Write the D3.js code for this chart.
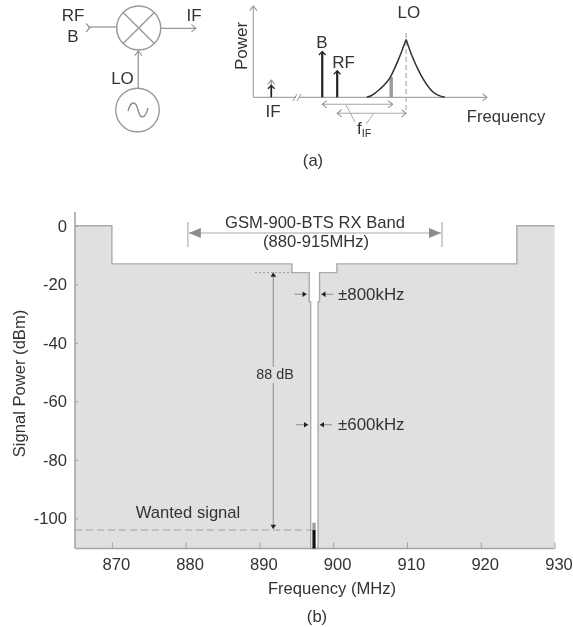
<!DOCTYPE html>
<html><head><meta charset="utf-8">
<script src="https://cdn.jsdelivr.net/npm/d3@7"></script>
<style>
html,body{margin:0;background:#fff}
svg{display:block;filter:blur(.55px)}
text{font-family:"Liberation Sans",Arial,sans-serif;fill:#333}
</style></head><body><div id="c"></div>
<script>
// Panel (b): blocker mask
const maskFreq = [865, 870, 870, 894.4, 894.4, 896.75, 896.75, 896.95, 896.95, 897.95, 897.95, 898.15, 898.15, 900.5, 900.5, 924.9, 924.9, 930];
const maskPower = [0, 0, -13, -13, -16, -16, -26, -26, -110.3, -110.3, -26, -26, -16, -16, -13, -13, 0, 0];
const xTicks = [870, 880, 890, 900, 910, 920, 930];
const yTicks = [0, -20, -40, -60, -80, -100];
const wantedFreq = 897.4, wantedPower = -104, wantedPeak = -101.5;
// Panel (a): schematic spectrum, units 0-100
const toneNames = ["IF", "B", "RF"];
const toneFreq = [7.7, 29.5, 35.9];
const tonePower = [13, 50, 29];
const loLeftFreq = [48.6, 50.6, 54.1, 58.4, 62, 65.4];
const loLeftPower = [0, 2, 8.8, 21, 40.7, 63.4];
const loRightFreq = [65.4, 67.8, 71.4, 76.9, 82];
const loRightPower = [63.4, 46, 26, 5.8, 0];

const W = 573, H = 627, line = "#a6a6a6", fill = "#e0e0e0", FS = 16.6;
const svg = d3.select("#c").append("svg").attr("width", W).attr("height", H);
const defs = svg.append("defs");
function mk(id, vb, size, path, attrs) {
  const p = defs.append("marker").attr("id", id).attr("viewBox", vb).attr("refX", 0).attr("refY", 0)
    .attr("markerWidth", size).attr("markerHeight", size).attr("markerUnits", "userSpaceOnUse")
    .attr("orient", "auto-start-reverse").append("path").attr("d", path);
  for (const k in attrs) p.attr(k, attrs[k]);
}
mk("k", "-7 -5 8 10", 7, "M-6,-4L0,0L-6,4Z", {fill: "#222"});
mk("band", "-13 -7 14 14", 14, "M-12,-5L0,0L-12,5Z", {fill: "#8c8c8c"});
mk("go", "-7 -6 8 12", 11, "M-5,-4L0,0L-5,4", {fill: "none", stroke: "#8e8e8e", "stroke-width": 1.1});
mk("bo", "-7 -6 8 12", 9, "M-4.5,-4.5L0,0L-4.5,4.5", {fill: "none", stroke: "#222", "stroke-width": 1.7});
function seg(x1, y1, x2, y2, s = line, w = 1.3, extra = {}) {
  const l = svg.append("line").attr("x1", x1).attr("y1", y1).attr("x2", x2).attr("y2", y2).attr("stroke", s).attr("stroke-width", w);
  for (const k in extra) l.attr(k, extra[k]);
  return l;
}
function txt(t, x, y, size = FS, anchor = "middle") {
  return svg.append("text").attr("x", x).attr("y", y).attr("font-size", size).attr("text-anchor", anchor).text(t);
}

/* ---------- panel (b) ---------- */
const x = d3.scaleLinear().domain([865, 930]).range([75, 554.5]);
const y = d3.scaleLinear().domain([0, -110.3]).range([225.8, 548.5]);
const pts = maskFreq.map((f, i) => [f, maskPower[i]]);
const open = d3.line().x(d => x(d[0])).y(d => y(d[1]));
svg.append("path").attr("d", open(pts) + `L${x(930)},${y(-110.3)}L${x(865)},${y(-110.3)}Z`).attr("fill", fill);
svg.append("path").attr("d", open(pts)).attr("fill", "none").attr("stroke", "#ababab").attr("stroke-width", 1.4);

const gx = svg.append("g").attr("transform", `translate(0,${y(-110.3)})`)
  .call(d3.axisBottom(x).tickValues(xTicks).tickSize(-6).tickPadding(9.5).tickFormat(d => String(d)));
const gy = svg.append("g").attr("transform", `translate(${x(865)},0)`)
  .call(d3.axisLeft(y).tickValues(yTicks).tickSize(-3).tickPadding(8).tickFormat(d => String(d)));
[gx, gy].forEach(g => {
  g.selectAll("text").attr("font-size", FS).attr("font-family", '"Liberation Sans",Arial,sans-serif').attr("fill", "#333");
  g.selectAll("line").attr("stroke", "#a0a0a0");
  g.select(".domain").remove();
});
gx.selectAll("text").attr("dx", 4);
seg(x(865), 212, x(865), y(-110.3), "#a6a6a6", 1.6);
seg(x(865), y(-110.3), x(930), y(-110.3), "#a6a6a6", 1.5);

// band bracket
const bandL = x(880.3), bandR = x(914.75);
seg(bandL, 222, bandL, 247, "#b5b5b5", 1.3); seg(bandR, 222, bandR, 247, "#b5b5b5", 1.3);
seg(bandL + 1, 233, bandR - 1, 233, "#c4c4c4", 1.3, {"marker-start": "url(#band)", "marker-end": "url(#band)"});
txt("GSM-900-BTS RX Band", 315, 227.5);
txt("(880-915MHz)", 316, 246.5);

// 88 dB
seg(255, y(-16), x(894.4), y(-16), "#999", 1, {"stroke-dasharray": "2 2"});
seg(273.3, y(-16), 273.3, y(wantedPower) - 1, "#9a9a9a", 1.2, {"marker-start": "url(#k)", "marker-end": "url(#k)"});
svg.append("rect").attr("x", 255).attr("y", 367).attr("width", 40).attr("height", 16).attr("fill", fill);
txt("88 dB", 275, 379, 14.4);
// wanted
seg(x(865), y(wantedPower), x(wantedFreq), y(wantedPower), "#9a9a9a", 0.9, {"stroke-dasharray": "7 4"});
txt("Wanted signal", 188, 518);
seg(x(wantedFreq), y(wantedPeak), x(wantedFreq), y(wantedPower), "#9a9a9a", 3.2);
seg(x(wantedFreq), y(wantedPower), x(wantedFreq), y(-110.3), "#111", 3.2);
// offsets: half-width in MHz, power level of the callout in dBm, label
const offsetMarks = [[0.8, -23.4, "±800kHz"], [0.6, -68, "±600kHz"]];
offsetMarks.forEach(([off, p, lab]) => {
  const py = y(p), l = x(wantedFreq - off - 0.05), r = x(wantedFreq + off + 0.05);
  seg(l - 13, py, l - 1, py, "#8a8a8a", 1, {"marker-end": "url(#k)"});
  seg(r + 13, py, r + 1, py, "#8a8a8a", 1, {"marker-end": "url(#k)"});
  txt(lab, 338, py + 5.5, 16.9, "start");
});
txt("Frequency (MHz)", 332, 594);
txt("(b)", 317, 622);
txt("Signal Power (dBm)", 0, 0).attr("transform", "translate(25,383.5) rotate(-90)");

/* ---------- panel (a) spectrum ---------- */
const ax = d3.scaleLinear().domain([0, 100]).range([253.3, 487]);
const ay = d3.scaleLinear().domain([0, 100]).range([97.3, 6]);
seg(ax(0), ay(0), ax(0), ay(100), line, 1.2, {"marker-end": "url(#go)"});
seg(ax(0), ay(0), 296, ay(0), line, 1.2);
seg(299, ay(0), ax(100), ay(0), line, 1.2, {"marker-end": "url(#go)"});
seg(293, 101, 297, 94, "#999", 1); seg(297, 101, 301, 94, "#999", 1);
txt("Power", 0, 0, 17).attr("transform", "translate(247,46) rotate(-90)");

const curve = d3.line().x(d => ax(d[0])).y(d => ay(d[1])).curve(d3.curveMonotoneX);
const imgF = 59, imgP = 22, loF = 65.4;
seg(ax(imgF), ay(0), ax(imgF), ay(imgP), "#9c9c9c", 3.5);
seg(ax(loF), 33, ax(loF), 113, "#b5b5b5", 1.3, {"stroke-dasharray": "5 3"});
[[loLeftFreq, loLeftPower], [loRightFreq, loRightPower]].forEach(([fs, ps]) => {
  svg.append("path").attr("d", curve(fs.map((f, i) => [f, ps[i]])))
    .attr("fill", "none").attr("stroke", "#333").attr("stroke-width", 1.5);
});
seg(ax(toneFreq[0]), ay(0), ax(toneFreq[0]), ay(19), "#a0a0a0", 1.6, {"marker-end": "url(#go)"});
toneFreq.forEach((f, i) => {
  seg(ax(f), ay(0), ax(f), ay(tonePower[i]), "#222", i === 0 ? 1.6 : 2.2, {"marker-end": "url(#bo)"});
});
const toneLabelPos = [[273, 116.7], [322, 48], [343.5, 68]];
toneNames.forEach((n, i) => txt(n, toneLabelPos[i][0], toneLabelPos[i][1], 17));
txt("LO", 408.8, 18, 17);
txt("Frequency", 506, 121.5);
seg(ax(toneFreq[1]), 104.3, ax(imgF) + 1.5, 104.3, line, 1.1, {"marker-start": "url(#go)", "marker-end": "url(#go)"});
seg(ax(toneFreq[2]), 113.3, ax(loF), 113.3, line, 1.1, {"marker-start": "url(#go)", "marker-end": "url(#go)"});
seg(346, 105, 355, 122, "#aaa", 1); seg(373.3, 114, 366, 124, "#aaa", 1);
const fif = txt("f", 357, 134, 17, "start");
fif.append("tspan").attr("font-size", 11).attr("dy", 3).text("IF");
txt("(a)", 313, 165.7);

/* ---------- mixer ---------- */
const mc = [138.7, 28], mr = 22, oc = [137.5, 110], orr = 21.8;
svg.append("circle").attr("cx", mc[0]).attr("cy", mc[1]).attr("r", mr).attr("fill", "#fff").attr("stroke", "#999").attr("stroke-width", 1.4);
const d = mr * Math.SQRT1_2;
seg(mc[0] - d, mc[1] - d, mc[0] + d, mc[1] + d, "#999", 1.4);
seg(mc[0] - d, mc[1] + d, mc[0] + d, mc[1] - d, "#999", 1.4);
seg(88, 27, mc[0] - mr, 27, "#999", 1.3);
svg.append("path").attr("d", "M86,23.5L90,27.5L86,32").attr("fill", "none").attr("stroke", "#999").attr("stroke-width", 1.3);
seg(mc[0] + mr, 28.3, 196, 28.3, "#999", 1.3, {"marker-end": "url(#go)"});
seg(138.3, oc[1] - orr, 138.3, mc[1] + mr + 1, "#999", 1.3, {"marker-end": "url(#go)"});
svg.append("circle").attr("cx", oc[0]).attr("cy", oc[1]).attr("r", orr).attr("fill", "#fff").attr("stroke", "#999").attr("stroke-width", 1.4);
svg.append("path").attr("d", "M128,111C131,100 136,101 138,110C140,119 145,120 148,108").attr("fill", "none").attr("stroke", "#888").attr("stroke-width", 1.3);
txt("RF", 73, 21, 17); txt("B", 73, 41.7, 17); txt("IF", 194, 20.7, 17); txt("LO", 122.5, 84, 17);
</script></body></html>
